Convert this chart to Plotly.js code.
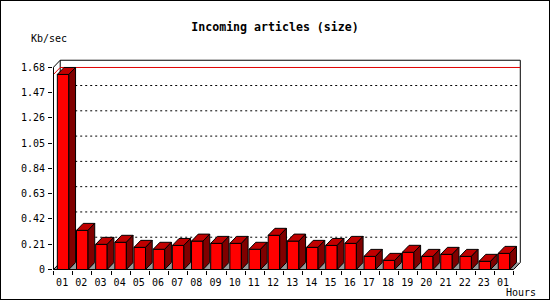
<!DOCTYPE html>
<html><head><meta charset="utf-8">
<script src="https://cdn.plot.ly/plotly-3.0.1.min.js"></script>
<style>
html,body{margin:0;padding:0;background:#fff;}
#wrap{position:relative;width:550px;height:300px;}
#chart{width:550px;height:300px;}
#border{position:absolute;left:0;top:0;width:550px;height:300px;box-sizing:border-box;border:1px solid #000;pointer-events:none;}
</style></head><body>
<div id="wrap"><div id="chart"></div><div id="border"></div></div>
<script>
// ---- data ----
const hours = ['01','02','03','04','05','06','07','08','09','10','11','12','13','14','15','16','17','18','19','20','21','22','23','01'];
const kbPerSec = [1.62,0.325,0.209,0.226,0.184,0.168,0.200,0.236,0.217,0.217,0.168,0.284,0.236,0.184,0.200,0.217,0.109,0.076,0.143,0.109,0.126,0.109,0.068,0.134];
const yTickVals = [0,0.21,0.42,0.63,0.84,1.05,1.26,1.47,1.68];
const yTickText = ['0','0.21','0.42','0.63','0.84','1.05','1.26','1.47','1.68'];
const chartTitle = 'Incoming articles (size)';
const yUnit = 'Kb/sec';
const xUnit = 'Hours';

// ---- 3D styling (depth offsets in axis units) ----
const DX = 0.35, DY = 0.058;
const BAR_L = 0.2, BAR_R = 0.8;
const nCat = hours.length;
const yTop = yTickVals[yTickVals.length-1];
const maxValue = Math.max(...kbPerSec);

function polys(fn){
  const xs=[], ys=[];
  kbPerSec.forEach((v,i)=>{ const p=fn(v,i); p.forEach(q=>{xs.push(q[0]);ys.push(q[1]);}); xs.push(p[0][0]); ys.push(p[0][1]); xs.push(null); ys.push(null); });
  return {xs, ys};
}
const faceFront = polys((v,i)=>[[i+BAR_L,0],[i+BAR_R,0],[i+BAR_R,v],[i+BAR_L,v]]);
const faceTop = polys((v,i)=>[[i+BAR_L,v],[i+BAR_R,v],[i+BAR_R+DX,v+DY],[i+BAR_L+DX,v+DY]]);
const faceSide = polys((v,i)=>[[i+BAR_R,0],[i+BAR_R,v],[i+BAR_R+DX,v+DY],[i+BAR_R+DX,DY]]);

function segs(list){ const xs=[],ys=[]; list.forEach(s=>{ s.forEach(p=>{xs.push(p[0]);ys.push(p[1]);}); xs.push(null); ys.push(null);}); return {xs,ys}; }

const grid = segs(yTickVals.slice(1,-1).map(t=>[[DX,t+DY],[nCat+DX,t+DY]]));
const frame = segs([
  [[DX,DY],[DX,yTop+DY],[nCat+DX,yTop+DY],[nCat+DX,DY]],
  [[0,yTop],[DX,yTop+DY]],
]);
const floorEdges = segs([
  [[0,yTop],[0,0],[nCat,0],[nCat+DX,DY]],
  [[0,0],[DX,DY]]
]);
const maxLine = segs([[[0,maxValue],[DX,maxValue+DY],[nCat+DX,maxValue+DY]]]);

const base = {type:'scatter', mode:'lines', hoverinfo:'skip', showlegend:false};
const traces = [
  Object.assign({}, base, {x:grid.xs, y:grid.ys, line:{color:'#000', width:1, dash:'2px,3px'}}),
  Object.assign({}, base, {x:frame.xs, y:frame.ys, line:{color:'#000', width:1}}),
  Object.assign({}, base, {x:maxLine.xs, y:maxLine.ys, line:{color:'#e00000', width:1}}),
  Object.assign({}, base, {x:[0,nCat,nCat+DX,DX,0], y:[0,0,DY,DY,0], fill:'toself', fillcolor:'#999999', line:{width:0}}),
  Object.assign({}, base, {x:floorEdges.xs, y:floorEdges.ys, line:{color:'#000', width:1}}),
  Object.assign({}, base, {x:faceFront.xs, y:faceFront.ys, fill:'toself', fillcolor:'#ff0000', line:{color:'#000', width:1}}),
  Object.assign({}, base, {x:faceTop.xs, y:faceTop.ys, fill:'toself', fillcolor:'#c00000', line:{color:'#000', width:1}}),
  Object.assign({}, base, {x:faceSide.xs, y:faceSide.ys, fill:'toself', fillcolor:'#800000', line:{color:'#000', width:1}})
];

const PXX = 19.17, PXY = 120.4;
const L=53, R=27, T=57, B=30;
const W=550-L-R, H=300-T-B;
const x0 = -0.5/PXX, y0 = -0.5/PXY;
const tickFont = {family:'DejaVu Sans Mono, monospace', size:10, color:'#000'};

const layout = {
  width:550, height:300,
  margin:{l:L, r:R, t:T, b:B, pad:0},
  paper_bgcolor:'#fff', plot_bgcolor:'#fff',
  title:{text:chartTitle, font:{family:'DejaVu Sans Mono, monospace', size:11.6, color:'#000', weight:'bold'}, x:0.5, xref:'container', xanchor:'center', y:1-26.7/300, yref:'container', yanchor:'middle'},
  xaxis:{range:[x0, x0+W/PXX], showgrid:false, zeroline:false, showline:false,
    tickmode:'array', tickvals:hours.map((h,i)=>i+0.45), ticktext:hours, ticks:'', tickfont:tickFont, ticklabelstandoff:5,
    minor:{tickmode:'linear', tick0:0, dtick:1, ticks:'outside', ticklen:4, tickcolor:'#000', tickwidth:1, showgrid:false}},
  yaxis:{range:[y0, y0+H/PXY], showgrid:false, zeroline:false, showline:false,
    tickmode:'array', tickvals:yTickVals, ticktext:yTickText, ticks:'outside', ticklen:4, tickcolor:'#000', tickwidth:1, tickfont:tickFont, ticklabelstandoff:1},
  annotations:[
    {text:yUnit, xref:'paper', yref:'paper', x:(29-L)/W, y:(300-B-38)/H, xanchor:'left', yanchor:'middle', showarrow:false, font:tickFont},
    {text:xUnit, xref:'paper', yref:'paper', x:(504-L)/W, y:(300-B-292)/H, xanchor:'left', yanchor:'middle', showarrow:false, font:tickFont}
  ]
};
Plotly.newPlot('chart', traces, layout, {staticPlot:true, displayModeBar:false});
</script></body></html>
